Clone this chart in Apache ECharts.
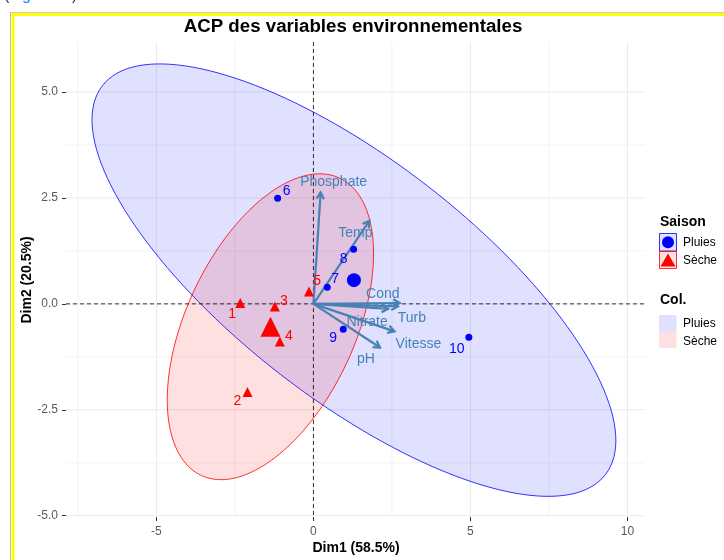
<!DOCTYPE html>
<html><head><meta charset="utf-8">
<script src="https://cdn.jsdelivr.net/npm/echarts@6/dist/echarts.min.js"></script>
<style>html,body{margin:0;padding:0;background:#fff}#c{width:724px;height:560px}</style>
</head><body><div id="c"></div>
<script>
const FONT = '"Liberation Sans", Arial, Helvetica, sans-serif';

// ---- Individuals (PCA scores) ----
const individus = ['1','2','3','4','5','6','7','8','9','10'];
const dim1 = [-2.33, -2.10, -1.23, -1.07, -0.14, -1.14, 0.44, 1.28, 0.95, 4.95];
const dim2 = [0.02, -2.08, -0.06, -0.89, 0.29, 2.49, 0.39, 1.29, -0.60, -0.79];
const saison = ['Sèche','Sèche','Sèche','Sèche','Sèche','Pluies','Pluies','Pluies','Pluies','Pluies'];

// ---- Variables (arrows) ----
const variables = ['Phosphate','Temp','Cond','Turb','Nitrate','Vitesse','pH'];
const varDim1 = [0.23, 1.78, 2.75, 2.69, 2.38, 2.58, 2.12];
const varDim2 = [2.63, 1.96, 0.02, -0.06, -0.12, -0.65, -1.03];

// ---- Groups: centres and ellipses (conjugate semi-diameters, in Dim units) ----
const groupes = ['Pluies','Sèche'];
const centreDim1 = [1.29, -1.37];
const centreDim2 = [0.56, -0.54];
const ellU1 = [8.01, 2.20];
const ellU2 = [-4.59, 3.51];
const ellV1 = [-2.33, 2.44];
const ellV2 = [-2.23, -0.84];

// ---- Axis ticks ----
const xTicks = [-5, 0, 5, 10];
const xTickLabels = ['-5', '0', '5', '10'];
const yTicks = [-5, -2.5, 0, 2.5, 5];
const yTickLabels = ['-5.0', '-2.5', '0.0', '2.5', '5.0'];
const xMinor = [-7.5, -2.5, 2.5, 7.5];
const yMinor = [-3.75, -1.25, 1.25, 3.75];

// ---- styles ----
const COL = {Pluies: '#0000FF', 'Sèche': '#FF0000'};
const FILL = {Pluies: 'rgba(0,0,255,0.12)', 'Sèche': 'rgba(255,0,0,0.12)'};
const STEEL = '#4682B4';
const indLabelOffset = [[-8,11],[-10,9],[9,-5],[9,-5],[8,-10],[9,-7],[8,-8],[-10,10],[-10,9],[-12,12]];
const varLabelOffset = [[13,-10],[-14,12],[-17,-9],[14,12],[-21,13],[24,12.5],[-14,12]];

const chart = echarts.init(document.getElementById('c'), null, {renderer: 'canvas'});

function pointSeries(g) {
  const data = [];
  individus.forEach((name, i) => {
    if (saison[i] !== g) return;
    data.push({
      value: [dim1[i], dim2[i]], name: name,
      label: {offset: indLabelOffset[i]}
    });
  });
  return {
    type: 'scatter', z: 6, silent: true,
    symbol: g === 'Pluies' ? 'circle' : 'triangle',
    symbolSize: g === 'Pluies' ? 7 : 10,
    itemStyle: {color: COL[g], opacity: 1},
    label: {show: true, position: 'inside', formatter: p => p.name,
            color: COL[g], fontSize: 14, fontFamily: FONT},
    data: data
  };
}

const gridData = [];
xTicks.forEach(v => gridData.push([v, 0, 1]));
xMinor.forEach(v => gridData.push([v, 0, 0]));
yTicks.forEach(v => gridData.push([0, v, 3]));
yMinor.forEach(v => gridData.push([0, v, 2]));

const option = {
  animation: false,
  backgroundColor: '#fff',
  grid: {left: 66, right: 79, top: 42, bottom: 43},
  xAxis: {
    type: 'value', min: -7.88, max: 10.56,
    splitLine: {show: false},
    axisLine: {show: false, onZero: false},
    axisTick: {show: true, customValues: xTicks, length: 4, lineStyle: {color: '#333', width: 1}},
    axisLabel: {customValues: xTicks, color: '#5A5A5A', fontSize: 12, fontFamily: FONT, margin: 9,
      formatter: v => { const k = xTicks.indexOf(v); return k >= 0 ? xTickLabels[k] : ''; }}
  },
  yAxis: {
    type: 'value', min: -5.03, max: 6.18,
    splitLine: {show: false},
    axisLine: {show: false, onZero: false},
    axisTick: {show: true, customValues: yTicks, length: 4, lineStyle: {color: '#333', width: 1}},
    axisLabel: {customValues: yTicks, color: '#5A5A5A', fontSize: 12, fontFamily: FONT, margin: 8,
      formatter: v => { const k = yTicks.indexOf(v); return k >= 0 ? yTickLabels[k] : ''; }}
  },
  series: [
    { // grid lines
      type: 'custom', z: 1, silent: true,
      renderItem: (params, api) => {
        const cs = params.coordSys;
        const kind = api.value(2);
        const color = '#EBEBEB';
        const w = (kind === 1 || kind === 3) ? 1 : 0.6;
        if (kind < 2) {
          const x = api.coord([api.value(0), 0])[0];
          return {type: 'line', shape: {x1: x, y1: cs.y, x2: x, y2: cs.y + cs.height},
                  style: {stroke: color, lineWidth: w}};
        } else {
          const y = api.coord([0, api.value(1)])[1];
          return {type: 'line', shape: {x1: cs.x, y1: y, x2: cs.x + cs.width, y2: y},
                  style: {stroke: color, lineWidth: w}};
        }
      },
      data: gridData
    },
    { // ellipses
      type: 'custom', z: 2, silent: true,
      renderItem: (params, api) => {
        const i = params.dataIndex;
        const pts = [];
        for (let k = 0; k <= 160; k++) {
          const t = k / 160 * 2 * Math.PI;
          pts.push(api.coord([
            centreDim1[i] + ellU1[i] * Math.cos(t) + ellV1[i] * Math.sin(t),
            centreDim2[i] + ellU2[i] * Math.cos(t) + ellV2[i] * Math.sin(t)
          ]));
        }
        const g = groupes[i];
        return {type: 'polygon', shape: {points: pts},
                style: {fill: FILL[g], stroke: COL[g], lineWidth: 0.8}};
      },
      data: groupes.map((g, i) => [centreDim1[i], centreDim2[i]])
    },
    { // zero lines
      type: 'custom', z: 3, silent: true,
      renderItem: (params, api) => {
        const cs = params.coordSys;
        const o = api.coord([0, 0]);
        return {type: 'group', children: [
          {type: 'line', shape: {x1: o[0], y1: cs.y, x2: o[0], y2: cs.y + cs.height},
           style: {stroke: '#000', lineWidth: 0.8, lineDash: [4, 3]}},
          {type: 'line', shape: {x1: cs.x, y1: o[1], x2: cs.x + cs.width, y2: o[1]},
           style: {stroke: '#000', lineWidth: 0.8, lineDash: [4, 3]}}
        ]};
      },
      data: [[0, 0]]
    },
    { // variable arrows
      type: 'custom', z: 5, silent: true,
      renderItem: (params, api) => {
        const i = params.dataIndex;
        const o = api.coord([0, 0]);
        const p = api.coord([api.value(0), api.value(1)]);
        const ang = Math.atan2(p[1] - o[1], p[0] - o[0]);
        const L = 7.5, a = Math.PI / 6;
        const h1 = [p[0] - L * Math.cos(ang - a), p[1] - L * Math.sin(ang - a)];
        const h2 = [p[0] - L * Math.cos(ang + a), p[1] - L * Math.sin(ang + a)];
        const off = varLabelOffset[i];
        return {type: 'group', children: [
          {type: 'line', shape: {x1: o[0], y1: o[1], x2: p[0], y2: p[1]},
           style: {stroke: STEEL, lineWidth: 2.2}},
          {type: 'polyline', shape: {points: [h1, p, h2]},
           style: {stroke: STEEL, lineWidth: 2.2, fill: null}},
          {type: 'text', style: {text: variables[i], x: p[0] + off[0], y: p[1] + off[1],
            align: 'center', verticalAlign: 'middle', fill: STEEL, font: '14px ' + FONT}}
        ]};
      },
      data: variables.map((v, i) => [varDim1[i], varDim2[i]])
    },
    pointSeries('Pluies'),
    pointSeries('Sèche'),
    { // group centres
      type: 'scatter', z: 6, silent: true,
      data: groupes.map((g, i) => ({
        value: [centreDim1[i], centreDim2[i]],
        symbol: g === 'Pluies' ? 'circle' : 'triangle',
        symbolSize: g === 'Pluies' ? 14 : 20,
        itemStyle: {color: COL[g], opacity: 1}
      }))
    }
  ],
  graphic: [
    // page frame
    {type: 'line', shape: {x1: 10.5, y1: 12, x2: 10.5, y2: 560}, style: {stroke: '#bbb', lineWidth: 1}, z: 10},
    {type: 'line', shape: {x1: 11, y1: 12.5, x2: 724, y2: 12.5}, style: {stroke: '#ccc', lineWidth: 1}, z: 10},
    {type: 'rect', shape: {x: 13, y: 14.5, width: 800, height: 700},
     style: {fill: null, stroke: '#FFFF00', lineWidth: 3}, z: 10},
    // cut-off caption text above frame
    {type: 'text', x: 4, y: -12, style: {text: '(', font: '16px ' + FONT, fill: '#333'}, z: 10},
    {type: 'text', x: 14, y: -12, style: {text: 'figure 6', font: '16px ' + FONT, fill: '#1E90FF'}, z: 10},
    {type: 'text', x: 72, y: -12, style: {text: ')', font: '16px ' + FONT, fill: '#333'}, z: 10},
    // title
    {type: 'text', x: 353, y: 27, style: {text: 'ACP des variables environnementales',
      align: 'center', verticalAlign: 'middle', font: 'bold 18.7px ' + FONT, fill: '#000'}, z: 10},
    // axis titles
    {type: 'text', x: 356, y: 548, style: {text: 'Dim1 (58.5%)', align: 'center', verticalAlign: 'middle',
      font: 'bold 14px ' + FONT, fill: '#000'}, z: 10},
    {type: 'text', x: 27, y: 280, rotation: Math.PI / 2, style: {text: 'Dim2 (20.5%)', align: 'center',
      verticalAlign: 'middle', font: 'bold 14px ' + FONT, fill: '#000'}, z: 10},
    // legend: Saison
    {type: 'text', x: 660, y: 222, style: {text: 'Saison', verticalAlign: 'middle', font: 'bold 14px ' + FONT, fill: '#000'}, z: 10},
    {type: 'rect', shape: {x: 659.5, y: 233.5, width: 17, height: 17.5}, style: {fill: FILL.Pluies, stroke: COL.Pluies, lineWidth: 0.8}, z: 10},
    {type: 'circle', shape: {cx: 668, cy: 242.3, r: 6}, style: {fill: COL.Pluies}, z: 11},
    {type: 'rect', shape: {x: 659.5, y: 251.5, width: 17, height: 17}, style: {fill: FILL['Sèche'], stroke: COL['Sèche'], lineWidth: 0.8}, z: 10},
    {type: 'polygon', shape: {points: [[668, 253.5], [675.5, 266.5], [660.5, 266.5]]}, style: {fill: COL['Sèche']}, z: 11},
    {type: 'text', x: 683, y: 243, style: {text: 'Pluies', verticalAlign: 'middle', font: '12px ' + FONT, fill: '#000'}, z: 10},
    {type: 'text', x: 683, y: 261, style: {text: 'Sèche', verticalAlign: 'middle', font: '12px ' + FONT, fill: '#000'}, z: 10},
    // legend: Col.
    {type: 'text', x: 660, y: 300, style: {text: 'Col.', verticalAlign: 'middle', font: 'bold 14px ' + FONT, fill: '#000'}, z: 10},
    {type: 'rect', shape: {x: 659, y: 315, width: 17.5, height: 16.5}, style: {fill: FILL.Pluies}, z: 10},
    {type: 'rect', shape: {x: 659, y: 331.5, width: 17.5, height: 16.5}, style: {fill: FILL['Sèche']}, z: 10},
    {type: 'text', x: 683, y: 323.5, style: {text: 'Pluies', verticalAlign: 'middle', font: '12px ' + FONT, fill: '#000'}, z: 10},
    {type: 'text', x: 683, y: 341.5, style: {text: 'Sèche', verticalAlign: 'middle', font: '12px ' + FONT, fill: '#000'}, z: 10}
  ]
};
chart.setOption(option);
</script>
</body></html>
